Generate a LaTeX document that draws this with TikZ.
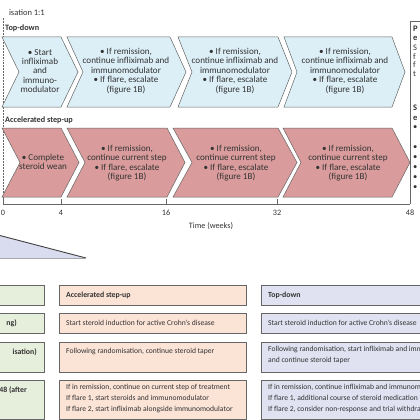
\documentclass[tikz,border=0pt]{standalone}
\usepackage{fontspec}
\setmainfont{Carlito}
\definecolor{tdblue}{HTML}{DCEFF7}
\definecolor{asred}{HTML}{D99B9B}
\definecolor{cgreen}{HTML}{E6EEDC}
\definecolor{cpeach}{HTML}{FBE3D6}
\definecolor{clav}{HTML}{E0E2F1}
\definecolor{tri}{HTML}{D9DCEF}
\definecolor{txt}{HTML}{333333}
\definecolor{edge}{HTML}{666666}
\tikzset{
  chevtext/.style={align=center, text=txt, font=\fontsize{9.1}{9.4}\selectfont, inner sep=0pt},
  lbl/.style={anchor=west, text=txt, font=\fontsize{8.2}{9}\selectfont\bfseries, inner sep=0pt},
  tabtext/.style={anchor=west, align=left, text=txt, font=\fontsize{7.6}{10.6}\selectfont, inner sep=0pt},
  tabhead/.style={anchor=west, text=txt, font=\fontsize{7.8}{10.6}\selectfont\bfseries, inner sep=0pt},
  tabbox/.style={draw=edge, line width=0.9pt},
  chevtop/.style={fill=tdblue, draw=edge, line width=0.5pt, line join=miter},
  chevbot/.style={fill=asred, draw=edge, line width=0.5pt, line join=miter},
  ticklbl/.style={text=txt, font=\fontsize{8.2}{9}\selectfont, inner sep=0pt},
  boxtext/.style={anchor=west, text=txt, font=\fontsize{8.5}{9}\selectfont, inner sep=0pt},
  boxbold/.style={boxtext, font=\fontsize{8.5}{9}\selectfont\bfseries},
}
% style, xs, xe, ytop, ybot, depth
\def\mychev#1#2#3#4#5#6{%
  \path[#1] (#2,#4) -- (#3,#4) -- ({#3+#6},{(#4+#5)/2}) -- (#3,#5) -- (#2,#5)
     -- ({#2+#6},{(#4+#5)/2}) -- cycle;}
\begin{document}
\begin{tikzpicture}[x=1pt,y=-1pt]
\useasboundingbox (0,0) rectangle (420,420);
\fill[white] (0,0) rectangle (420,420);

% header
\node[anchor=east, text=txt, font=\fontsize{8.5}{9}\selectfont, inner sep=0pt] (rand) at (45,13) {isation 1:1};
\draw[edge, densely dotted, line width=0.5pt] (3,18) -- (3,204);
\node[lbl] (tdlbl) at (5,28) {Top-down};
\node[lbl] (aslbl) at (5,120) {Accelerated step-up};

% top row chevrons
\mychev{chevtop}{2}{61}{37}{107}{17}
\mychev{chevtop}{67}{170}{37}{107}{16}
\mychev{chevtop}{178}{278}{37}{107}{14}
\mychev{chevtop}{284}{392}{37}{107}{13}
\node[chevtext] (t1) at (40,71) {\textbullet\ Start\\infliximab\\and\\immuno-\\modulator};
\node[chevtext] (t2) at (126,71) {\textbullet\ If remission,\\continue infliximab and\\immunomodulator\\\textbullet\ If flare, escalate\\(figure 1B)};
\node[chevtext] (t3) at (235,71) {\textbullet\ If remission,\\continue infliximab and\\immunomodulator\\\textbullet\ If flare, escalate\\(figure 1B)};
\node[chevtext] (t4) at (345,71) {\textbullet\ If remission,\\continue infliximab and\\immunomodulator\\\textbullet\ If flare, escalate\\(figure 1B)};

% bottom row chevrons
\mychev{chevbot}{2}{61}{128}{197}{18}
\mychev{chevbot}{67}{167}{128}{197}{18}
\mychev{chevbot}{173}{278}{128}{197}{19}
\mychev{chevbot}{283}{392}{128}{197}{18}
\node[chevtext] (b1) at (43,162) {\textbullet\ Complete\\steroid wean};
\node[chevtext] (b2) at (127,163) {\textbullet\ If remission,\\continue current step\\\textbullet\ If flare, escalate\\(figure 1B)};
\node[chevtext] (b3) at (236,163) {\textbullet\ If remission,\\continue current step\\\textbullet\ If flare, escalate\\(figure 1B)};
\node[chevtext] (b4) at (348,163) {\textbullet\ If remission,\\continue current step\\\textbullet\ If flare, escalate\\(figure 1B)};

% axis
\draw[edge, line width=0.6pt] (3,204) -- (410,204);
\foreach \x/\t in {3/0,61/4,166/16,277/32,410/48}{
  \draw[edge, line width=0.6pt] (\x,204) -- (\x,199);
  \node[ticklbl] at (\x,213) {\t};
}
\node[ticklbl] (time) at (211,226) {Time (weeks)};

% right box
\draw[edge, line width=0.6pt] (425,21) -- (410,21) -- (410,204);
\node[boxbold] at (413,29) {P};
\node[boxbold] at (413,38) {e};
\node[boxtext] at (413,48) {S};
\node[boxtext] at (413,57) {f};
\node[boxtext] at (413,65) {f};
\node[boxtext] at (413,74) {t};
\node[boxbold] at (413,108) {S};
\node[boxbold] at (413,118) {e};
\foreach \y in {128,148,158,168,178,188}{
  \node[boxtext] at (413,\y) {\textbullet};
}

% triangle
\fill[tri] (-2,235) -- (86,258) -- (-2,258) -- cycle;
\draw[black!75, line width=0.9pt] (-2,235) -- (86,258);
\draw[black!35, line width=1pt] (-2,258) -- (86,258);

% table column 1 (green)
\draw[tabbox, fill=cgreen] (-5,285) rectangle (44,305);
\draw[tabbox, fill=cgreen] (-5,313) rectangle (44,333);
\draw[tabbox, fill=cgreen] (-5,342) rectangle (44,372);
\draw[tabbox, fill=cgreen] (-5,380) rectangle (44,419);
\node[tabhead, anchor=east] (c1r2) at (17,323) {ng)};
\node[tabhead, anchor=east] (c1r3) at (37,352) {isation)};
\node[tabhead, anchor=east] (c1r4) at (27,390) {48 (after};

% column 2 (peach)
\draw[tabbox, fill=cpeach] (59,285) rectangle (246,305);
\draw[tabbox, fill=cpeach] (59,313) rectangle (246,333);
\draw[tabbox, fill=cpeach] (59,342) rectangle (246,372);
\draw[tabbox, fill=cpeach] (59,380) rectangle (246,419);
\node[tabhead] (c2r1) at (66,295) {Accelerated step-up};
\node[tabtext] (c2r2) at (66,323) {Start steroid induction for active Crohn’s disease};
\node[tabtext] (c2r3) at (66,352) {Following randomisation, continue steroid taper};
\node[tabtext, anchor=north west] (c2r4) at (66,384.5) {If in remission, continue on current step of treatment\\If flare 1, start steroids and immunomodulator\\If flare 2, start infliximab alongside immunomodulator};

% column 3 (lavender)
\draw[tabbox, fill=clav] (261,285) rectangle (430,305);
\draw[tabbox, fill=clav] (261,313) rectangle (430,333);
\draw[tabbox, fill=clav] (261,342) rectangle (430,372);
\draw[tabbox, fill=clav] (261,380) rectangle (430,419);
\node[tabhead] (c3r1) at (268,295) {Top-down};
\node[tabtext] (c3r2) at (268,323) {Start steroid induction for active Crohn’s disease};
\node[tabtext, anchor=north west] (c3r3) at (268,346.5) {Following randomisation, start infliximab and immunomodulator\\and continue steroid taper};
\node[tabtext, anchor=north west] (c3r4) at (268,384.5) {If in remission, continue infliximab and immunomodulator\\If flare 1, additional course of steroid medication\\If flare 2, consider non-response and trial withdrawal};
\end{tikzpicture}
\end{document}
